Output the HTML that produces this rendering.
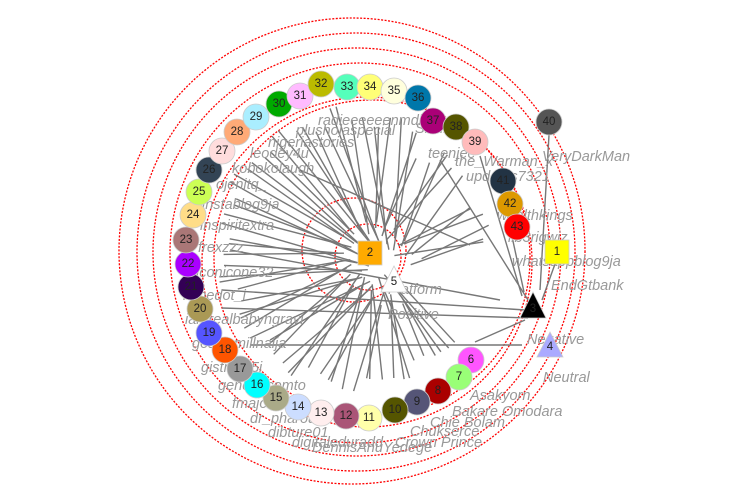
<!DOCTYPE html>
<html><head><meta charset="utf-8"><style>
body{margin:0;background:#fff;}
svg{display:block;font-family:"Liberation Sans",sans-serif;}
.l{font-size:14.5px;font-style:italic;fill:#999;}
.n{font-size:11.5px;fill:#222;text-anchor:middle;dominant-baseline:central;}
</style></head><body>
<svg id="s" width="748" height="496" viewBox="0 0 748 496" xmlns="http://www.w3.org/2000/svg">
<g fill="none" stroke="#f00" stroke-width="1.3" stroke-dasharray="2,1.5">
<circle cx="352" cy="251" r="233"/>
<circle cx="356" cy="252" r="219"/>
<circle cx="357" cy="252" r="204"/>
<circle cx="360" cy="253" r="190"/>
<circle cx="367" cy="262" r="165"/>
<circle cx="372" cy="258" r="158"/>
<circle cx="354" cy="250" r="52"/>
<circle cx="368" cy="257" r="33"/>
</g>
<g id="lines" stroke="#777" stroke-width="1.4"></g>
<g class="l">
<text x="318" y="125">radieeeeeenmdiuk</text>
<text x="296" y="135">plusholaspecial</text>
<text x="268" y="147">nigeriastories</text>
<text x="250" y="158">leodey4u</text>
<text x="232" y="173">kobokolaugh</text>
<text x="216" y="189">ojenitq_</text>
<text x="202" y="209">instablog9ja</text>
<text x="200" y="230">inspiritextra</text>
<text x="198" y="252">frexzzz</text>
<text x="196" y="277">iconicone32</text>
<text x="183" y="300">iamedot_i</text>
<text x="185" y="324">iamrealbabyngravi</text>
<text x="192" y="348">gossipmillnaija</text>
<text x="201" y="372">gistmas5i</text>
<text x="218" y="390">generalcomto</text>
<text x="232" y="408">fmajorzone</text>
<text x="250" y="423">dr_pharouk</text>
<text x="268" y="437">dibture01</text>
<text x="292" y="447">digitaleduradd</text>
<text x="312" y="452">DennisAnuYedege</text>
<text x="395" y="447">Crown Prince</text>
<text x="410" y="436">Chukserce</text>
<text x="430" y="427">Chie Bolam</text>
<text x="452" y="416">Bakare Omodara</text>
<text x="470" y="400">Asakyorn</text>
<text x="543" y="382">Neutral</text>
<text x="527" y="344">Negative</text>
<text x="551" y="290">EndGtbank</text>
<text x="512" y="266">whatsappblog9ja</text>
<text x="508" y="242">lib3rigwiz</text>
<text x="497" y="220">wealthkings</text>
<text x="466" y="181">updates7321</text>
<text x="455" y="166">the_Warman_x</text>
<text x="428" y="158">teenjee</text>
<text x="415" y="133">Skinny</text>
<text x="470" y="138">s</text>
<text x="542" y="161">VeryDarkMan</text>
<text x="388" y="319">Positive</text>
<text x="388" y="294">Platform</text>
</g>
<g stroke="#ccc" stroke-width="0.8">
<circle cx="471" cy="360" r="13" fill="#f5f"/><circle cx="459" cy="377" r="13" fill="#9f7"/><circle cx="438" cy="391" r="13" fill="#a00"/><circle cx="417" cy="402" r="13" fill="#557"/><circle cx="395" cy="410" r="13" fill="#550"/><circle cx="369" cy="418" r="13" fill="#ffa"/><circle cx="346" cy="416" r="13" fill="#a57"/><circle cx="321" cy="413" r="13" fill="#fee"/><circle cx="298" cy="407" r="13" fill="#cdf"/><circle cx="276" cy="398" r="13" fill="#aa8"/><circle cx="257" cy="385" r="13" fill="#0ff"/><circle cx="240" cy="369" r="13" fill="#999"/><circle cx="225" cy="350" r="13" fill="#f50"/><circle cx="209" cy="333" r="13" fill="#55f"/><circle cx="200" cy="309" r="13" fill="#a95"/><circle cx="191" cy="287" r="13" fill="#305"/><circle cx="188" cy="264" r="13" fill="#a0f"/><circle cx="186" cy="240" r="13" fill="#a77"/><circle cx="193" cy="215" r="13" fill="#fd8"/><circle cx="199" cy="192" r="13" fill="#cf5"/><circle cx="209" cy="170" r="13" fill="#345"/><circle cx="222" cy="151" r="13" fill="#fdd"/><circle cx="237" cy="132" r="13" fill="#fa7"/><circle cx="256" cy="117" r="13" fill="#aef"/><circle cx="279" cy="104" r="13" fill="#0a0"/><circle cx="300" cy="96" r="13" fill="#fbf"/><circle cx="321" cy="84" r="13" fill="#bb0"/><circle cx="347" cy="87" r="13" fill="#5fb"/><circle cx="370" cy="87" r="13" fill="#ff7"/><circle cx="394" cy="91" r="13" fill="#ffd"/><circle cx="418" cy="98" r="13" fill="#07a"/><circle cx="433" cy="121" r="13" fill="#a07"/><circle cx="456" cy="127" r="13" fill="#550"/><circle cx="475" cy="142" r="13" fill="#fbb"/><circle cx="549" cy="122" r="13" fill="#555"/><circle cx="503" cy="181" r="13" fill="#234"/><circle cx="510" cy="204" r="13" fill="#d90"/><circle cx="517" cy="227" r="13" fill="#f00"/>
<rect x="545" y="240" width="24" height="24" fill="#ff0"/>
<rect x="358" y="241" width="24" height="24" fill="#fa0"/>
<polygon points="533,292 520,318 546,318" fill="#000"/>
<polygon points="550,332 537,357 563,357" fill="#aaf"/>
<polygon points="394,266 381,292 407,292" fill="#fff"/>
</g>
<g class="n">
<text x="471" y="360">6</text><text x="459" y="377">7</text><text x="438" y="391">8</text><text x="417" y="402">9</text><text x="395" y="410">10</text><text x="369" y="418">11</text><text x="346" y="416">12</text><text x="321" y="413">13</text><text x="298" y="407">14</text><text x="276" y="398">15</text><text x="257" y="385">16</text><text x="240" y="369">17</text><text x="225" y="350">18</text><text x="209" y="333">19</text><text x="200" y="309">20</text><text x="191" y="287">21</text><text x="188" y="264">22</text><text x="186" y="240">23</text><text x="193" y="215">24</text><text x="199" y="192">25</text><text x="209" y="170">26</text><text x="222" y="151">27</text><text x="237" y="132">28</text><text x="256" y="117">29</text><text x="279" y="104">30</text><text x="300" y="96">31</text><text x="321" y="84">32</text><text x="347" y="87">33</text><text x="370" y="87">34</text><text x="394" y="91">35</text><text x="418" y="98">36</text><text x="433" y="121">37</text><text x="456" y="127">38</text><text x="475" y="142">39</text><text x="549" y="122">40</text><text x="503" y="181">41</text><text x="510" y="204">42</text><text x="517" y="227">43</text>
<text x="557" y="252">1</text><text x="370" y="253">2</text><text x="533" y="309">3</text><text x="550" y="347">4</text><text x="394" y="282">5</text>
</g>
</svg>
<script>
var P=[[471,360],[459,377],[438,391],[417,402],[395,410],[369,418],[346,416],[321,413],[298,407],[276,398],[257,385],[240,369],[225,350],[209,333],[200,309],[191,287],[188,264],[186,240],[193,215],[199,192],[209,170],[222,151],[237,132],[256,117],[279,104],[300,96],[321,84],[347,87],[370,87],[394,91],[418,98],[433,121],[456,127],[475,142],[503,181],[510,204],[517,227]];
var g=document.getElementById('lines'),h='';
function L(a,b,c,d){h+='<line x1="'+a.toFixed(1)+'" y1="'+b.toFixed(1)+'" x2="'+c.toFixed(1)+'" y2="'+d.toFixed(1)+'"/>';}
var T=[[372,256],[390,272]];
P.forEach(function(p,i){T.forEach(function(t,k){var dx=t[0]-p[0],dy=t[1]-p[1],d=Math.hypot(dx,dy);var ux=dx/d,uy=dy/d;var off=(k+i)%2?0:8;var s=24+((i*7)%20);L(p[0]+ux*s+uy*off,p[1]+uy*s-ux*off,t[0]-ux*(22+(i%3)*6)+uy*off*0.5,t[1]-uy*(22+(i%3)*6)-ux*off*0.5);});});
[[222,308,528,318],[250,345,522,345],[222,290,525,310],[475,342,525,320],[440,160,528,300],[503,195,524,292],[549,135,540,290],[555,264,542,300],[480,156,522,296],[230,250,500,300],[300,170,470,245]].forEach(function(a){L(a[0],a[1],a[2],a[3]);});
g.innerHTML=h;
</script>
</body></html>
